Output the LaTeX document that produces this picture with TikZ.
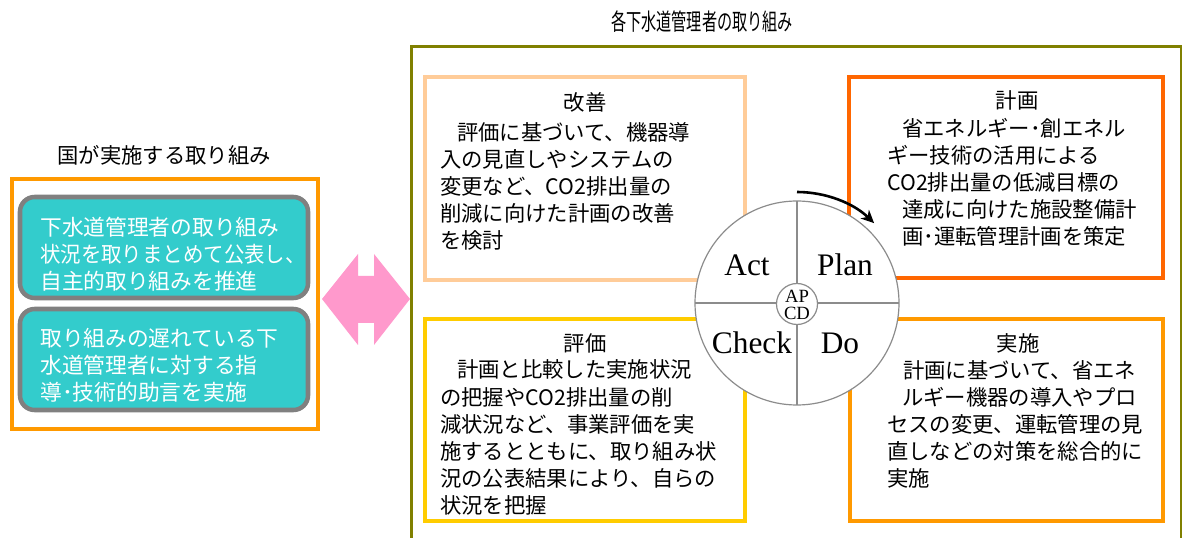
\documentclass[tikz,border=0pt]{standalone}
\usepackage{fontspec}
\usetikzlibrary{arrows.meta}
\newfontfamily\jp{Noto Sans CJK JP}
\newfontfamily\tms{Liberation Serif}
\definecolor{olive}{HTML}{808000}
\definecolor{peach}{HTML}{FFCC99}
\definecolor{redor}{HTML}{FF6600}
\definecolor{gold}{HTML}{FFCC00}
\definecolor{orng}{HTML}{FF9900}
\definecolor{teal2}{HTML}{33CCCC}
\definecolor{gry}{HTML}{808080}
\definecolor{pink2}{HTML}{FF99CC}
\definecolor{cgray}{HTML}{8C8C8C}
\tikzset{
  frame/.style={line width=2.25pt},
  cbox/.style={line width=3pt},
  tealbox/.style={line width=3.4pt, draw=gry, fill=teal2, rounded corners=11pt},
  body/.style={anchor=base west, inner sep=0pt, align=left, font=\jp\fontsize{16}{20.3}\selectfont},
  wbody/.style={anchor=base west, inner sep=0pt, align=left, text=white, font=\jp\fontsize{16.3}{20.6}\selectfont},
  ttl/.style={inner sep=0pt, font=\jp\fontsize{16}{20}\selectfont},
  pdca/.style={inner sep=0pt, font=\tms\fontsize{23.5}{26}\selectfont},
  small/.style={inner sep=0pt, font=\tms\fontsize{14}{14}\selectfont},
}
\begin{document}
\begin{tikzpicture}[x=0.75pt,y=-0.75pt]
\useasboundingbox (0,0) rectangle (1182,538);
\fill[white] (0,0) rectangle (1182,538);
% outer frame
\draw[frame, draw=olive] (1181.5,560) -- (1181.5,46.5) -- (411.5,46.5) -- (411.5,560);
\node[ttl] (rtitle) at (702,22) {\scalebox{0.65}[1]{\fontsize{17.5}{19}\selectfont 各下水道管理者の取り組み}};
% left group
\node[ttl] (ltitle) at (164,155) {国が実施する取り組み};
\draw[cbox, draw=orng] (12,179) rectangle (318,429);
\draw[tealbox] (20,197) rectangle (308,298);
\draw[tealbox] (20,309) rectangle (308,410);
\node[wbody] (t1) at (40,290) {下水道管理者の取り組み\\\scalebox{0.94}[1]{状況を取りまとめて公表し、}\\自主的取り組みを推進};
\node[wbody] (t2) at (40,401) {取り組みの遅れている下\\水道管理者に対する指\\導･技術的助言を実施};
% pink double arrow
\fill[pink2] (322,299) -- (358,254) -- (358,276) -- (374,276) -- (374,254) -- (410,299)
  -- (374,345) -- (374,323) -- (358,323) -- (358,345) -- cycle;
% four boxes
\draw[cbox, draw=peach] (425,77) rectangle (745,280);
\draw[cbox, draw=redor] (849,77) rectangle (1163,278);
\draw[cbox, draw=gold] (425,319) rectangle (745,521);
\draw[cbox, draw=orng] (850,319) rectangle (1163,521);
\node[ttl] (k1) at (585,102) {改善};
\node[body] (k2) at (440,248.3) {\hspace*{12.75pt}評価に基づいて、機器導\\入の見直しやシステムの\\変更など、CO2排出量の\\削減に向けた計画の改善\\を検討};
\node[ttl] (p1) at (1017,100) {計画};
\node[body] (p2) at (887,244.3) {\hspace*{11.25pt}省エネルギー･創エネル\\ギー技術の活用による\\CO2排出量の低減目標の\\\hspace*{11.25pt}達成に向けた施設整備計\\\hspace*{11.25pt}画･運転管理計画を策定};
\node[ttl] (h1) at (585,343) {評価};
\node[body] (h2) at (440,513.3) {\hspace*{12.75pt}計画と比較した実施状況\\の把握やCO2排出量の削\\減状況など、事業評価を実\\施するとともに、取り組み状\\況の公表結果により、自らの\\状況を把握};
\node[ttl] (j1) at (1018,343) {実施};
\node[body] (j2) at (887,486.3) {\hspace*{12pt}計画に基づいて、省エネ\\\hspace*{11.25pt}ルギー機器の導入やプロ\\セスの変更、運転管理の見\\直しなどの対策を総合的に\\実施};
% PDCA circle
\draw[cgray, line width=0.9pt, fill=white] (797,303) circle[radius=102];
\coordinate (ct) at (797,201);
\coordinate (cb) at (797,405);
\coordinate (cl) at (695,303);
\coordinate (cr) at (899,303);
\draw[cgray, line width=0.9pt] (ct) -- (cb);
\draw[cgray, line width=0.9pt] (cl) -- (cr);
\draw[cgray, line width=0.9pt, fill=white] (797,304) circle[radius=20.5];
\node[pdca] (act) at (747,265) {Act};
\node[pdca] (plan) at (845,265) {Plan};
\node[pdca] (check) at (752,343) {Check};
\node[pdca] (do) at (840,343) {Do};
\node[small] (ap) at (797,296) {AP};
\node[small] (cd) at (797,313.5) {CD};
% rotation arrow
\coordinate (arrS) at (797,192);
\draw[line width=1.95pt, -{Stealth[length=9.75pt,width=9pt,inset=3pt]}] (arrS) arc[start angle=-90, end angle=-46, radius=111];
\end{tikzpicture}
\end{document}
